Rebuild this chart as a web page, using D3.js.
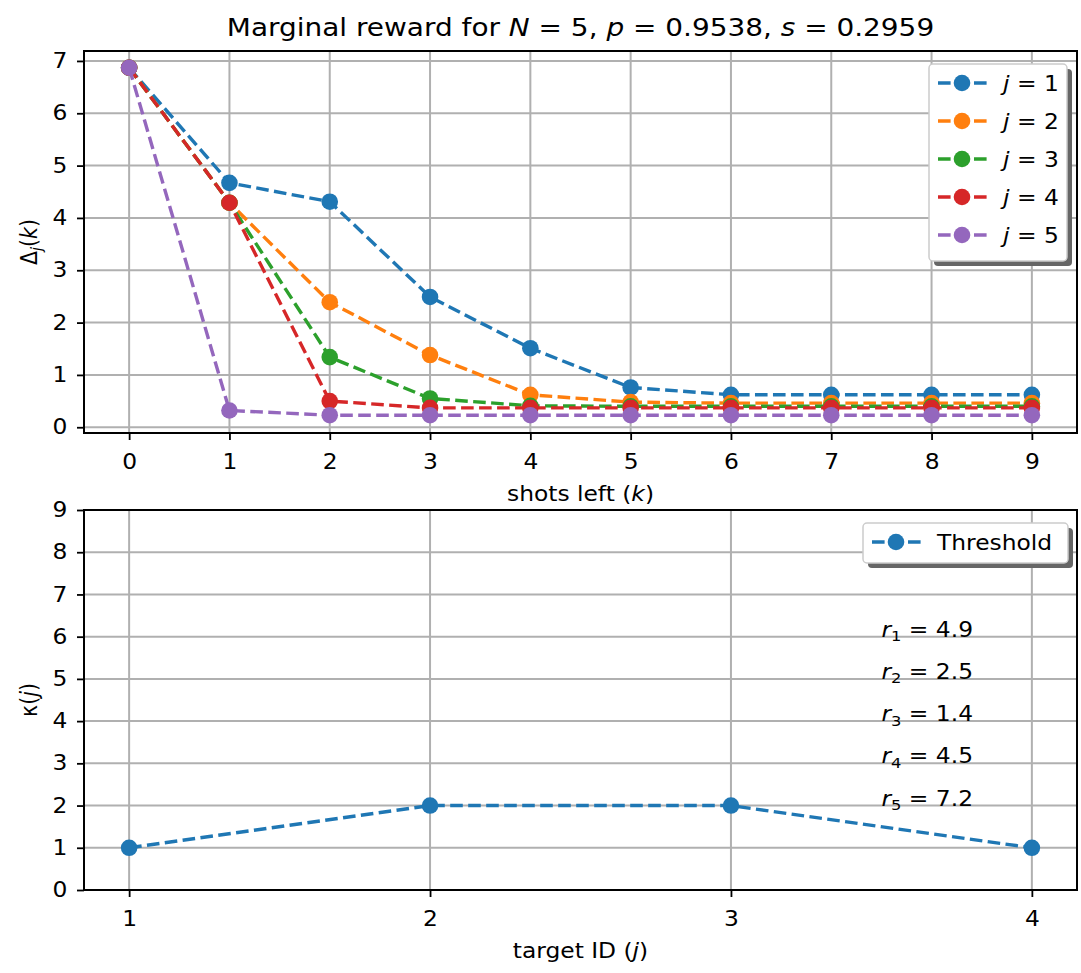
<!DOCTYPE html>
<html>
<head>
<meta charset="utf-8">
<script src="https://cdn.jsdelivr.net/npm/d3@7"></script>
<style>
body { margin: 0; background: #fff; }
text { font-family: "DejaVu Sans", sans-serif; fill: #000; }
</style>
</head>
<body>
<svg id="fig" width="1081" height="973"></svg>
<script>
// values
const shotsLeft = [0, 1, 2, 3, 4, 5, 6, 7, 8, 9];
const deltaJ1 = [6.87, 4.67, 4.31, 2.49, 1.51, 0.76, 0.62, 0.62, 0.62, 0.62];
const deltaJ2 = [6.87, 4.29, 2.39, 1.38, 0.62, 0.48, 0.46, 0.46, 0.46, 0.46];
const deltaJ3 = [6.87, 4.29, 1.34, 0.55, 0.41, 0.40, 0.40, 0.40, 0.40, 0.40];
const deltaJ4 = [6.87, 4.29, 0.50, 0.37, 0.37, 0.37, 0.37, 0.37, 0.37, 0.37];
const deltaJ5 = [6.87, 0.32, 0.23, 0.23, 0.23, 0.23, 0.23, 0.23, 0.23, 0.23];
const seriesNames = ["1", "2", "3", "4", "5"];
const targetIds = [1, 2, 3, 4];
const kappa = [1, 2, 2, 1];
const rewards = ["4.9", "2.5", "1.4", "4.5", "7.2"];
const rewardY = [6, 5, 4, 3, 2];
const topYTicks = [0, 1, 2, 3, 4, 5, 6, 7];
const botYTicks = [0, 1, 2, 3, 4, 5, 6, 7, 8, 9];

const colors = ["#1f77b4", "#ff7f0e", "#2ca02c", "#d62728", "#9467bd"];
const allDeltas = [deltaJ1, deltaJ2, deltaJ3, deltaJ4, deltaJ5];

const svg = d3.select("#fig");
svg.append("rect").attr("width", 1081).attr("height", 973).attr("fill", "#fff");

const fs = 20.5;
const sx = 1.14;        // the picture is a little wider than tall
const lw = 3.4, mr = 8.3, dash = "12.6,5.4";
const left = 84, right = 1077;
const top1 = 51, bot1 = 433;
const top2 = 510, bot2 = 890;

// rich text: parts = [{t, i, sub}], placed at x,y with a horizontal stretch
function rich(g, x, y, parts, size, anchor, rot) {
  const tr = rot ? `translate(${x},${y}) rotate(-90) scale(1,${sx})` : `translate(${x},${y}) scale(${sx},1)`;
  const t = g.append("text").attr("transform", tr)
    .attr("font-size", size).attr("text-anchor", anchor || "start");
  let shifted = false;
  parts.forEach(p => {
    const ts = t.append("tspan").text(p.t);
    if (p.i) ts.style("font-style", "italic");
    if (p.sub && !shifted) { ts.attr("dy", size * 0.22).attr("font-size", size * 0.7); shifted = true; }
    else if (p.sub) { ts.attr("font-size", size * 0.7); }
    else if (shifted) { ts.attr("dy", -size * 0.22); shifted = false; }
  });
  return t;
}

const x1 = d3.scaleLinear().domain([-0.45, 9.45]).range([left, right]);
const y1 = d3.scaleLinear().domain([-0.11, 7.19]).range([bot1, top1]);
const x2 = d3.scaleLinear().domain([0.85, 4.15]).range([left, right]);
const y2 = d3.scaleLinear().domain([0, 9]).range([bot2, top2]);

function axesFrame(xs, ys, xt, yt, yTop, yBot) {
  const g = svg.append("g");
  g.selectAll(".gx").data(xt).enter().append("line")
    .attr("x1", d => xs(d)).attr("x2", d => xs(d)).attr("y1", yTop).attr("y2", yBot)
    .attr("stroke", "#b0b0b0").attr("stroke-width", 2);
  g.selectAll(".gy").data(yt).enter().append("line")
    .attr("x1", left).attr("x2", right).attr("y1", d => ys(d)).attr("y2", d => ys(d))
    .attr("stroke", "#b0b0b0").attr("stroke-width", 2);
  return g;
}

function axesSpines(xs, ys, xt, yt, yTop, yBot) {
  const g = svg.append("g");
  const xa = d3.axisBottom(xs).tickValues(xt).tickSize(7).tickPadding(14).tickFormat(d3.format("d"));
  const ya = d3.axisLeft(ys).tickValues(yt).tickSize(7).tickPadding(7.5).tickFormat(d3.format("d"));
  const gx = g.append("g").attr("transform", `translate(0,${yBot})`).call(xa);
  const gy = g.append("g").attr("transform", `translate(${left},0)`).call(ya);
  [gx, gy].forEach(a => {
    a.select(".domain").remove();
    a.selectAll(".tick line").attr("stroke", "#000").attr("stroke-width", 1.8);
    a.selectAll(".tick text").attr("font-size", fs).attr("font-family", "DejaVu Sans")
      .attr("fill", "#000").attr("transform", `scale(${sx},1)`);
  });
  g.append("rect").attr("x", left).attr("y", yTop).attr("width", right - left).attr("height", yBot - yTop)
    .attr("fill", "none").attr("stroke", "#000").attr("stroke-width", 2);
  return g;
}

function legend(x0, y0, w, h, items) {
  const g = svg.append("g");
  g.append("rect").attr("x", x0 + 5).attr("y", y0 + 5).attr("width", w).attr("height", h)
    .attr("rx", 4).attr("fill", "#666");
  g.append("rect").attr("x", x0).attr("y", y0).attr("width", w).attr("height", h)
    .attr("rx", 4).attr("fill", "#fff").attr("stroke", "#cccccc").attr("stroke-width", 1.5);
  items.forEach((it, i) => {
    const cy = y0 + 19 + i * 38;
    g.append("line").attr("x1", x0 + 9).attr("x2", x0 + 58).attr("y1", cy).attr("y2", cy)
      .attr("stroke", it.color).attr("stroke-width", lw).attr("stroke-dasharray", dash);
    g.append("circle").attr("cx", x0 + 33).attr("cy", cy).attr("r", mr).attr("fill", it.color);
    rich(g, x0 + it.tx, cy + 7.5, it.label, fs);
  });
}

// ---------- top panel ----------
axesFrame(x1, y1, shotsLeft, topYTicks, top1, bot1);
const line1 = d3.line().x((d, i) => x1(shotsLeft[i])).y(d => y1(d));
allDeltas.forEach((vals, s) => {
  const g = svg.append("g");
  g.append("path").datum(vals).attr("d", line1).attr("fill", "none")
    .attr("stroke", colors[s]).attr("stroke-width", lw).attr("stroke-dasharray", dash);
  g.selectAll("circle").data(vals).enter().append("circle")
    .attr("cx", (d, i) => x1(shotsLeft[i])).attr("cy", d => y1(d)).attr("r", mr).attr("fill", colors[s]);
});
axesSpines(x1, y1, shotsLeft, topYTicks, top1, bot1);

rich(svg, (left + right) / 2, 36, [
  { t: "Marginal reward for " }, { t: "N", i: true }, { t: " = 5, " },
  { t: "p", i: true }, { t: " = 0.9538, " }, { t: "s", i: true }, { t: " = 0.2959" }
], 24.5, "middle");

rich(svg, (left + right) / 2, 501, [
  { t: "shots left (" }, { t: "k", i: true }, { t: ")" }
], fs, "middle");

rich(svg, 37, (top1 + bot1) / 2, [{ t: "Δ" }, { t: "j", i: true, sub: true }, { t: "(" }, { t: "k", i: true }, { t: ")" }], fs, "middle", true);

legend(929, 64, 138, 197, seriesNames.map((n, i) => ({
  color: colors[i], tx: 74, label: [{ t: "j", i: true }, { t: " = " + n }]
})));

// ---------- bottom panel ----------
axesFrame(x2, y2, targetIds, botYTicks, top2, bot2);
const line2 = d3.line().x((d, i) => x2(targetIds[i])).y(d => y2(d));
const gb = svg.append("g");
gb.append("path").datum(kappa).attr("d", line2).attr("fill", "none")
  .attr("stroke", colors[0]).attr("stroke-width", lw).attr("stroke-dasharray", dash);
gb.selectAll("circle").data(kappa).enter().append("circle")
  .attr("cx", (d, i) => x2(targetIds[i])).attr("cy", d => y2(d)).attr("r", mr).attr("fill", colors[0]);

rewards.forEach((r, i) => {
  rich(svg, x2(3.5), y2(rewardY[i]), [
    { t: "r", i: true }, { t: String(i + 1), sub: true }, { t: " = " + r }
  ], fs);
});
axesSpines(x2, y2, targetIds, botYTicks, top2, bot2);

rich(svg, (left + right) / 2, 958, [
  { t: "target ID (" }, { t: "j", i: true }, { t: ")" }
], fs, "middle");

rich(svg, 37, (top2 + bot2) / 2, [{ t: "κ(" }, { t: "j", i: true }, { t: ")" }], fs, "middle", true);

legend(863, 523, 205, 40, [{ color: colors[0], tx: 74, label: [{ t: "Threshold" }] }]);
</script>
</body>
</html>
